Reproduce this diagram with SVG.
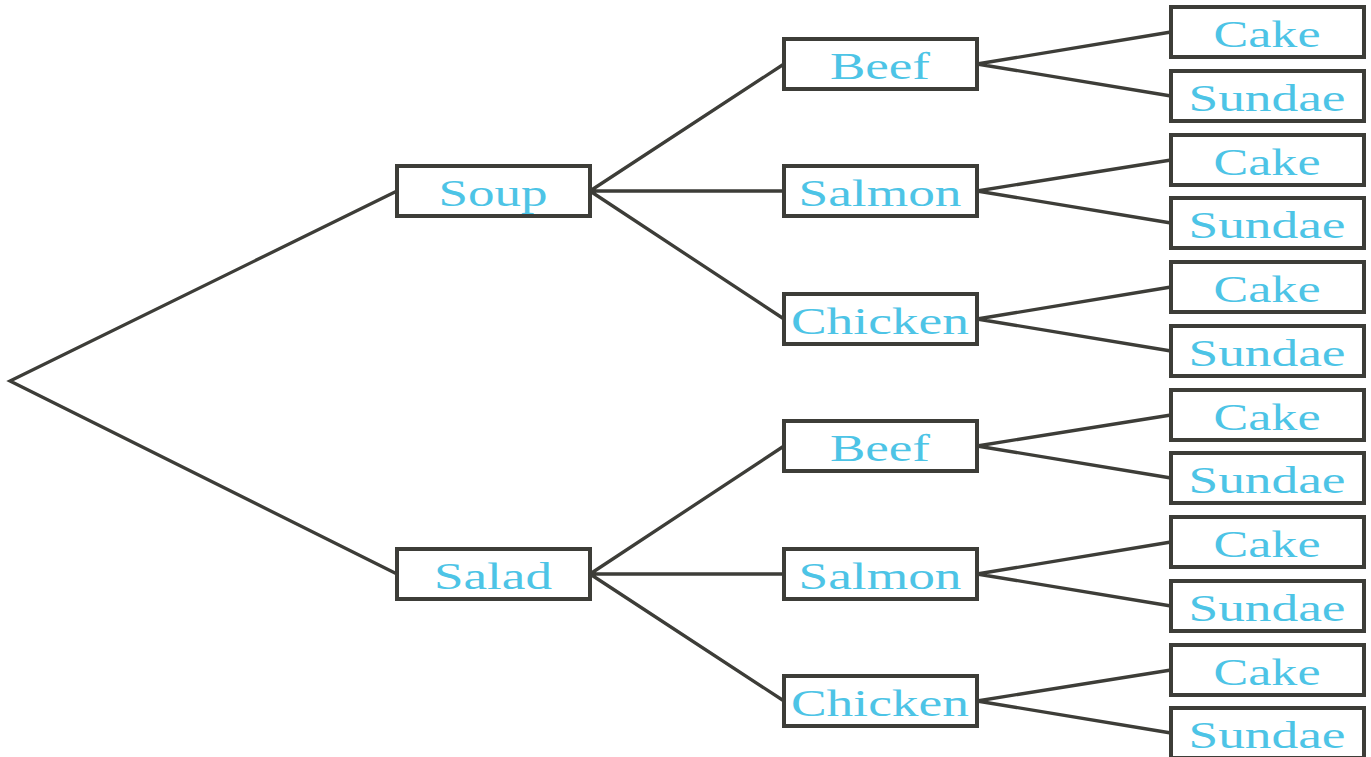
<svg xmlns="http://www.w3.org/2000/svg" width="1371" height="757" viewBox="0 0 1371 757">
<style>
.box{fill:#fff;stroke:#3d3d38;stroke-width:4}
.lbl{font-family:"Liberation Serif","Times New Roman",serif;font-size:37px;fill:#4dc4e6;text-anchor:middle}
.ln{stroke:#3d3d38;stroke-width:3.3;fill:none}
</style>
<rect width="1371" height="757" fill="#fff"/>
<g id="connectors" class="ln">
<path d="M397,191 L10,381 L397,574"/>
<path d="M590,191 L784,64 M590,191 L784,191 M590,191 L784,319"/>
<path d="M590,574 L784,446 M590,574 L784,574 M590,574 L784,701"/>
<path d="M977,64 L1171,32 M977,64 L1171,96"/>
<path d="M977,191 L1171,160 M977,191 L1171,223"/>
<path d="M977,319 L1171,287 M977,319 L1171,351"/>
<path d="M977,446 L1171,415 M977,446 L1171,478"/>
<path d="M977,574 L1171,542 M977,574 L1171,606"/>
<path d="M977,701 L1171,670 M977,701 L1171,733"/>
</g>
<g id="soup"><rect class="box" x="397" y="166" width="193" height="50"/><text class="lbl" x="493" y="206" textLength="109" lengthAdjust="spacingAndGlyphs">Soup</text></g>
<g id="salad"><rect class="box" x="397" y="549" width="193" height="50"/><text class="lbl" x="493" y="589" textLength="118" lengthAdjust="spacingAndGlyphs">Salad</text></g>
<g id="beef1"><rect class="box" x="784" y="39" width="193" height="50"/><text class="lbl" x="880" y="79" textLength="100" lengthAdjust="spacingAndGlyphs">Beef</text></g>
<g id="salmon1"><rect class="box" x="784" y="166" width="193" height="50"/><text class="lbl" x="880" y="206" textLength="163" lengthAdjust="spacingAndGlyphs">Salmon</text></g>
<g id="chicken1"><rect class="box" x="784" y="294" width="193" height="50"/><text class="lbl" x="880" y="334" textLength="178" lengthAdjust="spacingAndGlyphs">Chicken</text></g>
<g id="beef2"><rect class="box" x="784" y="421" width="193" height="50"/><text class="lbl" x="880" y="461" textLength="100" lengthAdjust="spacingAndGlyphs">Beef</text></g>
<g id="salmon2"><rect class="box" x="784" y="549" width="193" height="50"/><text class="lbl" x="880" y="589" textLength="163" lengthAdjust="spacingAndGlyphs">Salmon</text></g>
<g id="chicken2"><rect class="box" x="784" y="676" width="193" height="50"/><text class="lbl" x="880" y="716" textLength="178" lengthAdjust="spacingAndGlyphs">Chicken</text></g>
<g id="cake1"><rect class="box" x="1171" y="7" width="193" height="50"/><text class="lbl" x="1267" y="47" textLength="107" lengthAdjust="spacingAndGlyphs">Cake</text></g>
<g id="sundae1"><rect class="box" x="1171" y="71" width="193" height="50"/><text class="lbl" x="1267" y="111" textLength="157" lengthAdjust="spacingAndGlyphs">Sundae</text></g>
<g id="cake2"><rect class="box" x="1171" y="135" width="193" height="50"/><text class="lbl" x="1267" y="175" textLength="107" lengthAdjust="spacingAndGlyphs">Cake</text></g>
<g id="sundae2"><rect class="box" x="1171" y="198" width="193" height="50"/><text class="lbl" x="1267" y="238" textLength="157" lengthAdjust="spacingAndGlyphs">Sundae</text></g>
<g id="cake3"><rect class="box" x="1171" y="262" width="193" height="50"/><text class="lbl" x="1267" y="302" textLength="107" lengthAdjust="spacingAndGlyphs">Cake</text></g>
<g id="sundae3"><rect class="box" x="1171" y="326" width="193" height="50"/><text class="lbl" x="1267" y="366" textLength="157" lengthAdjust="spacingAndGlyphs">Sundae</text></g>
<g id="cake4"><rect class="box" x="1171" y="390" width="193" height="50"/><text class="lbl" x="1267" y="430" textLength="107" lengthAdjust="spacingAndGlyphs">Cake</text></g>
<g id="sundae4"><rect class="box" x="1171" y="453" width="193" height="50"/><text class="lbl" x="1267" y="493" textLength="157" lengthAdjust="spacingAndGlyphs">Sundae</text></g>
<g id="cake5"><rect class="box" x="1171" y="517" width="193" height="50"/><text class="lbl" x="1267" y="557" textLength="107" lengthAdjust="spacingAndGlyphs">Cake</text></g>
<g id="sundae5"><rect class="box" x="1171" y="581" width="193" height="50"/><text class="lbl" x="1267" y="621" textLength="157" lengthAdjust="spacingAndGlyphs">Sundae</text></g>
<g id="cake6"><rect class="box" x="1171" y="645" width="193" height="50"/><text class="lbl" x="1267" y="685" textLength="107" lengthAdjust="spacingAndGlyphs">Cake</text></g>
<g id="sundae6"><rect class="box" x="1171" y="708" width="193" height="50"/><text class="lbl" x="1267" y="748" textLength="157" lengthAdjust="spacingAndGlyphs">Sundae</text></g>
</svg>
